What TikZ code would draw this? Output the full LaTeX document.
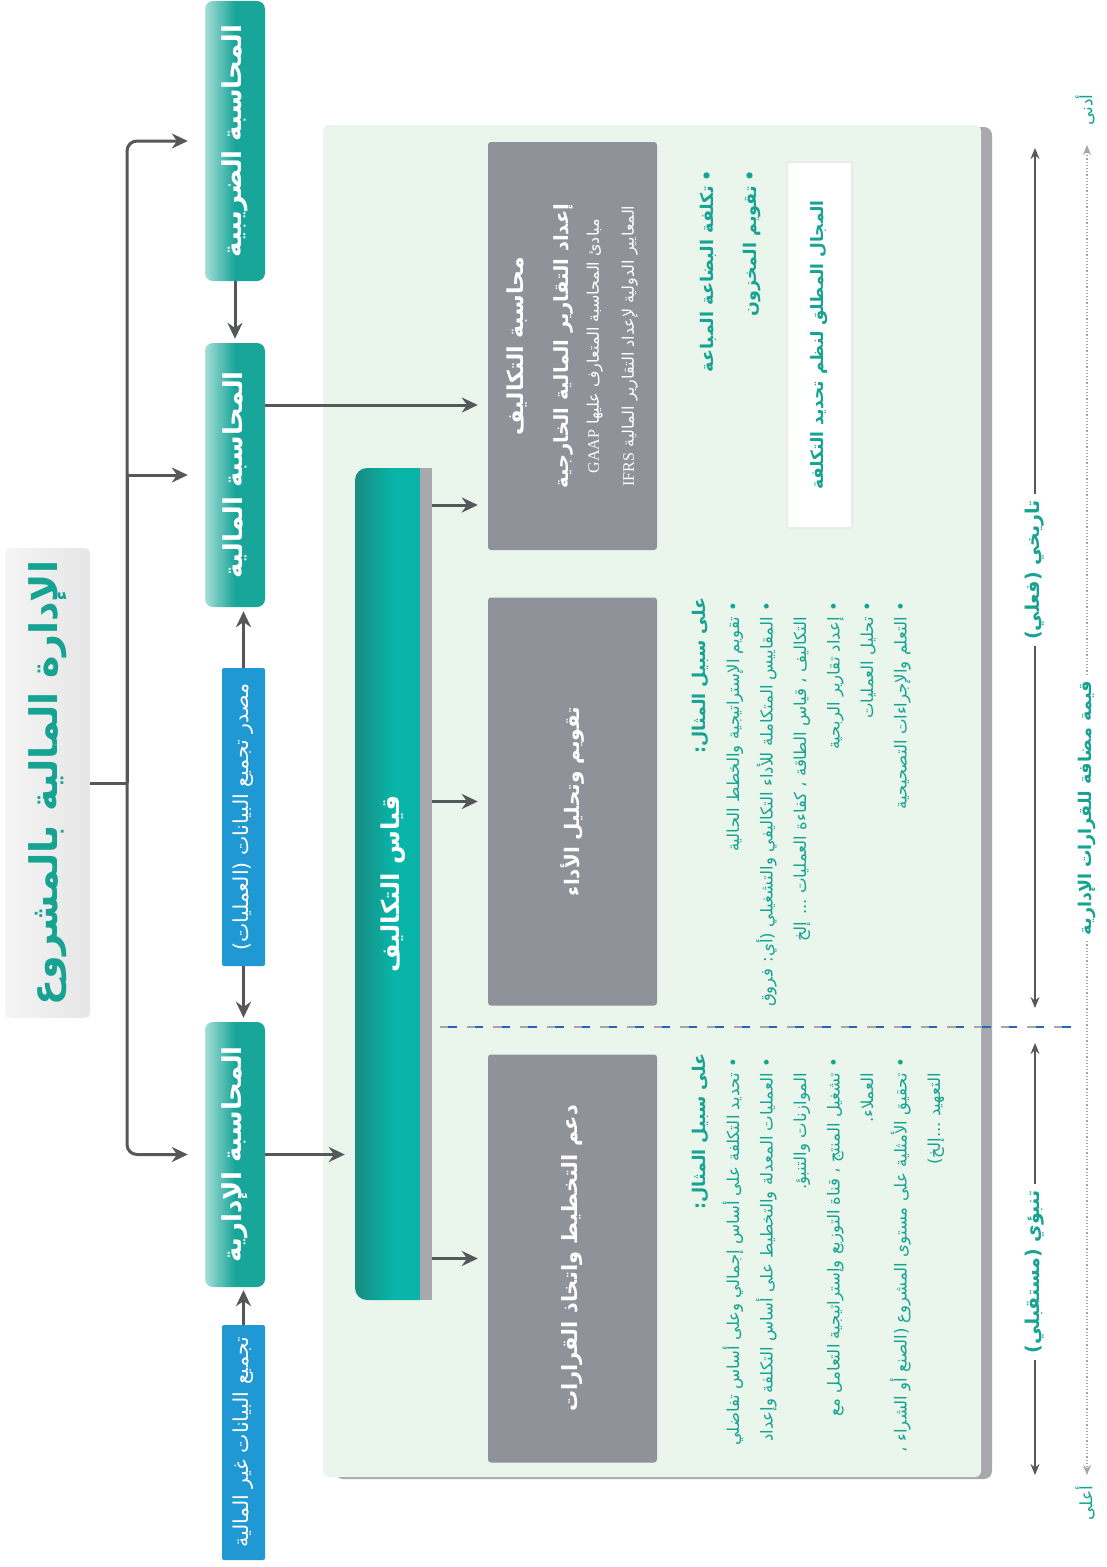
\documentclass[tikz,border=0pt]{standalone}
\usepackage{fontspec}
\usetikzlibrary{arrows.meta}
\TeXXeTstate=1
\newfontfamily\arabicfont[Script=Arabic]{DejaVu Sans}
\newfontfamily\latinserif{Liberation Serif}

\definecolor{tealtxt}{RGB}{22,163,146}
\definecolor{tealbox}{RGB}{24,165,154}
\definecolor{tealhi}{RGB}{165,222,216}
\definecolor{tealmsr}{RGB}{8,181,168}
\definecolor{tealmsrd}{RGB}{24,140,130}
\definecolor{bluebox}{RGB}{32,152,212}
\definecolor{graybox}{RGB}{143,146,153}
\definecolor{panel}{RGB}{234,245,236}
\definecolor{shdgray}{RGB}{167,169,172}
\definecolor{arrowgray}{RGB}{85,87,91}
\definecolor{dashblue}{RGB}{40,100,190}

% one rtl line, a bullet line, an indented line
\newcommand\arl[1]{\mbox{\beginR #1\endR}}
\newcommand\blt[1]{\mbox{\beginR\makebox[1.2em]{•}#1\endR}}
\newcommand\cnt[1]{\mbox{\beginR\hspace*{1.2em}#1\endR}}
\newcommand\fsz[2]{\fontsize{#1}{#2}\selectfont}

\begin{document}
\begin{tikzpicture}[x=1pt,y=-1pt,
    tbox/.style={rotate=90, rounded corners=8pt, left color=tealhi, right color=tealbox,
      middle color=tealbox, text=white, inner sep=0pt, minimum height=60pt,
      font=\arabicfont\bfseries\fsz{26}{30}},
    bbox/.style={rotate=90, rounded corners=2pt, fill=bluebox, text=white, inner sep=0pt,
      minimum height=43pt, font=\arabicfont\fsz{20.5}{24}},
    gbox/.style={rotate=90, rounded corners=3pt, fill=graybox, text=white, inner sep=0pt,
      minimum width=408pt, minimum height=169pt, align=center},
    ttxt/.style={rotate=90, inner sep=0pt, text=tealtxt},
    arr/.style={draw=arrowgray, line width=3pt, -{Stealth[length=16pt,width=15pt]}},
    link/.style={draw=arrowgray, line width=3pt},
    tarr/.style={draw=arrowgray, line width=1.6pt, -{Stealth[length=11pt,width=9pt]}},
    darr/.style={draw=gray!70, line width=1.2pt, dotted, -{Stealth[length=10pt,width=8pt]}},
  ]
  \useasboundingbox (0,0) rectangle (1107,1567);
  \fill[white] (0,0) rectangle (1107,1567);

  % background panel
  \fill[shdgray, rounded corners=8pt] (335,127) rectangle (992,1479);
  \fill[panel, rounded corners=6pt] (323,125) rectangle (981,1477);

  % title
  \node[rotate=90, rounded corners=5pt, left color=gray!8, right color=gray!20,
    minimum width=470pt, minimum height=85pt, inner sep=0pt, text=tealtxt,
    font=\arabicfont\bfseries\fsz{38}{42}] (ttl) at (47.5,783) {\arl{الإدارة المالية بالمشروع}};

  % accounting boxes
  \node[tbox, minimum width=280pt] (tax) at (235,141) {\arl{المحاسبة الضريبية}};
  \node[tbox, minimum width=264pt] (fin) at (235,475) {\arl{المحاسبة المالية}};
  \node[tbox, minimum width=265pt] (mgt) at (235,1154.5) {\arl{المحاسبة الإدارية}};

  \node[bbox, minimum width=298pt] (src) at (243.5,817) {\arl{مصدر تجميع البيانات (العمليات)}};
  \node[bbox, minimum width=235pt] (non) at (243.5,1442.5) {\arl{تجميع البيانات غير المالية}};

  % cost measurement bar
  \node[rotate=90, rounded corners=12pt, left color=tealmsrd, right color=tealmsr,
    middle color=tealmsr, text=white, minimum width=832pt, minimum height=77pt, inner sep=0pt,
    font=\arabicfont\bfseries\fsz{24.5}{28}] (msr) at (393.5,884) {\raisebox{6pt}{\arl{قياس التكاليف}}};
  \node[rotate=90, fill=shdgray, minimum width=832pt, minimum height=12pt, inner sep=0pt] (msrs) at (426,884) {};

  % grey boxes
  \node[gbox, font=\arabicfont\bfseries\fsz{16}{32}] (cst) at (572.5,346) {%
    \arl{\fsz{22}{26}محاسبة التكاليف}\\[13pt]
    \arl{\fsz{19.5}{24}إعداد التقارير المالية الخارجية}\\[-2pt]
    \arl{\mdseries مبادئ المحاسبة المتعارف عليها \beginL{\latinserif GAAP}\endL}\\[3pt]
    \arl{\mdseries المعايير الدولية لإعداد التقارير المالية \beginL{\latinserif IFRS}\endL}};
  \node[gbox, font=\arabicfont\bfseries\fsz{20}{24}] (prf) at (572.5,801.5) {\arl{تقويم وتحليل الأداء}};
  \node[gbox, font=\arabicfont\bfseries\fsz{21}{25}] (dec) at (572.5,1258.5) {\arl{دعم التخطيط واتخاذ القرارات}};

  % examples
  \node[ttxt, anchor=north east, align=right, font=\arabicfont\bfseries\fsz{17.5}{43}] (cstb) at (700,165) {%
    \blt{تكلفة البضاعة المباعة}\\
    \blt{تقويم المخزون}};
  \node[rotate=90, fill=white, draw=black!8, line width=2pt, rounded corners=2pt,
    minimum width=366pt, minimum height=65pt, inner sep=0pt, text=tealtxt,
    font=\arabicfont\bfseries\fsz{17}{20}] (abs) at (819.5,345) {\arl{المجال المطلق لنظم تحديد التكلفة}};

  \node[ttxt, anchor=north east, align=right, font=\arabicfont\fsz{16.5}{33.5}] (prfb) at (692,597) {%
    \arl{\bfseries\fsz{17.5}{20}على سبيل المثال:}\\
    \blt{تقويم الإستراتيجية والخطط الحالية}\\
    \blt{المقاييس المتكاملة للأداء التكاليفي والتشغيلي (أي: فروق}\\
    \cnt{التكاليف ، قياس الطاقة ، كفاءة العمليات ... إلخ}\\
    \blt{إعداد تقارير الربحية}\\
    \blt{تحليل العمليات}\\
    \blt{التعلم والإجراءات التصحيحية}};
  \node[ttxt, anchor=north east, align=right, font=\arabicfont\fsz{16.5}{33.5}] (decb) at (692,1053) {%
    \arl{\bfseries\fsz{17.5}{20}على سبيل المثال:}\\
    \blt{تحديد التكلفة على أساس إجمالي وعلى أساس تفاضلي}\\
    \blt{العمليات المعدلة والتخطيط على أساس التكلفة وإعداد}\\
    \cnt{الموازنات والتنبؤ.}\\
    \blt{تشغيل المنتج ، قناة التوزيع وإستراتيجية التعامل مع}\\
    \cnt{العملاء.}\\
    \blt{تحقيق الأمثلية على مستوى المشروع (الصنع أو الشراء ،}\\
    \cnt{التعهيد ...إلخ)}};

  % divider
  \draw[gray!70, line width=2pt, dash pattern=on 16.7pt off 10pt] (440,1027) -- (1075,1027);
  \draw[dashblue, line width=2pt, dash pattern=on 8.4pt off 18.3pt, dash phase=18.4pt] (440,1027) -- (1075,1027);

  % time axis labels
  \node[ttxt, font=\arabicfont\bfseries\fsz{19}{22}] (hst) at (1035,570) {\arl{تاريخي (فعلي)}};
  \node[ttxt, font=\arabicfont\bfseries\fsz{19}{22}] (fut) at (1035,1272) {\arl{تنبؤي (مستقبلي)}};
  \node[ttxt, font=\arabicfont\bfseries\fsz{17.5}{22}] (val) at (1087,808) {\arl{قيمة مضافة للقرارات الإدارية}};
  \node[ttxt, font=\arabicfont\fsz{17}{20}] (low) at (1085,110) {\arl{أدنى}};
  \node[ttxt, font=\arabicfont\fsz{17}{20}] (hig) at (1085,1503) {\arl{أعلى}};

  \coordinate (trk) at (127,783);
  \coordinate (ht) at (1035,148);
  \coordinate (hb) at (1035,1008);
  \coordinate (ft) at (1035,1043);
  \coordinate (fb) at (1035,1475);
  \coordinate (vt) at (1087,145);
  \coordinate (vb) at (1087,1475);

  % connectors
  \draw[link] (ttl.south) -- (trk);
  \draw[arr, rounded corners=10pt, shorten >=17pt] (trk) |- (tax.north);
  \draw[arr, shorten >=17pt] (trk) |- (fin.north);
  \draw[arr, rounded corners=10pt, shorten >=17pt] (trk) |- (mgt.north);
  \draw[arr, shorten >=4pt] (tax.west) -- (fin.east);
  \draw[arr, shorten >=4pt] (src.east) -- (src.east |- fin.west);
  \draw[arr, shorten >=4pt] (src.west) -- (src.west |- mgt.east);
  \draw[arr, shorten >=3pt] (non.east) -- (non.east |- mgt.west);

  \coordinate (fo) at ([yshift=70pt]fin.south);
  \draw[arr, shorten >=10pt] (fo) -- (fo -| cst.north);
  \draw[arr, shorten >=10pt] (mgt.south) -- (mgt.south -| msr.north);
  \coordinate (mo) at (msrs.south |- 0,505);
  \draw[arr, shorten >=10pt] (mo) -- (mo -| cst.north);
  \draw[arr, shorten >=10pt] (msrs.south |- prf.north) -- (prf.north);
  \draw[arr, shorten >=10pt] (msrs.south |- dec.north) -- (dec.north);

  \draw[tarr, shorten <=6pt] (hst.east) -- (ht);
  \draw[tarr, shorten <=6pt] (hst.west) -- (hb);
  \draw[tarr, shorten <=6pt] (fut.east) -- (ft);
  \draw[tarr, shorten <=6pt] (fut.west) -- (fb);
  \draw[darr, shorten <=6pt] (val.east) -- (vt);
  \draw[darr, shorten <=6pt] (val.west) -- (vb);
\end{tikzpicture}
\end{document}
